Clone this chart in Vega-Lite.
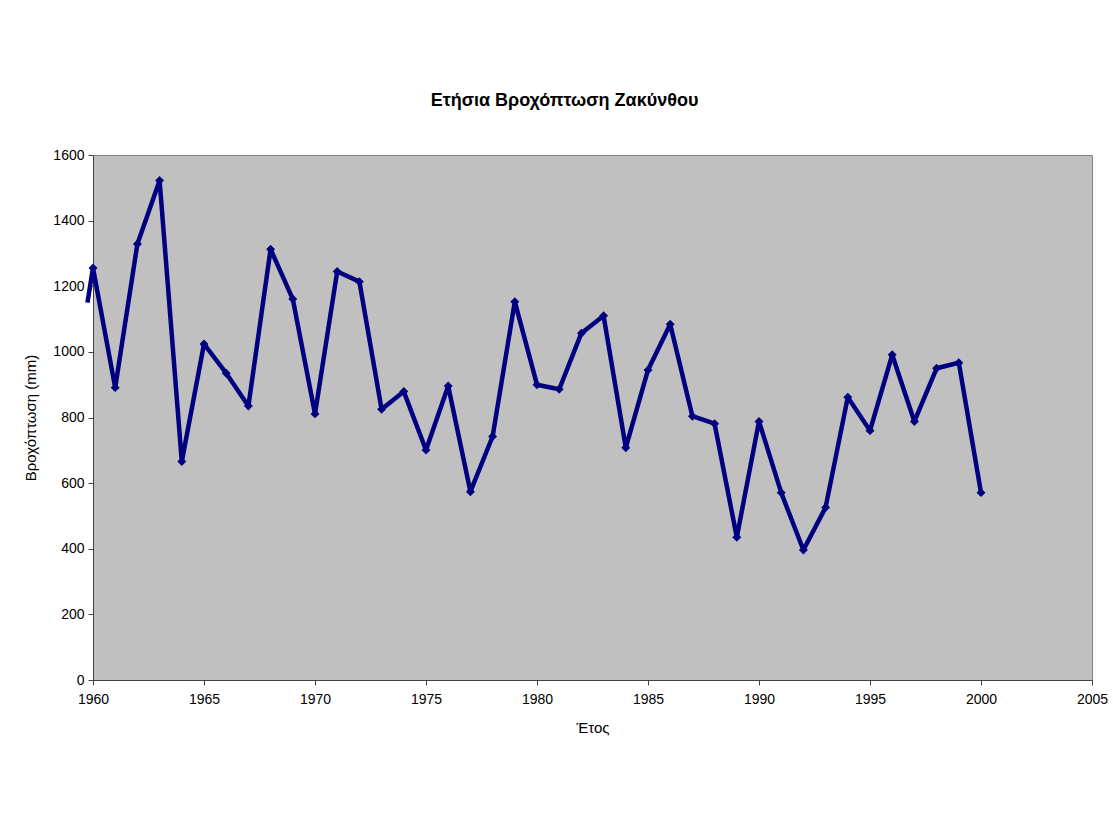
{
  "$schema": "https://vega.github.io/schema/vega-lite/v6.json",
  "autosize": {"type": "none"},
  "width": 999,
  "height": 525,
  "padding": {"left": 93, "top": 155, "right": 21, "bottom": 143},
  "background": "white",
  "title": {
    "text": "Ετήσια Βροχόπτωση Ζακύνθου",
    "font": "Liberation Sans",
    "fontSize": 18,
    "fontWeight": "bold",
    "color": "black",
    "anchor": "middle",
    "offset": 38,
    "dx": -28
  },
  "config": {
    "view": {"fill": "#C0C0C0", "stroke": "#808080", "strokeWidth": 1},
    "axis": {
      "labelFont": "Liberation Sans",
      "titleFont": "Liberation Sans",
      "labelFontSize": 14,
      "titleFontSize": 15,
      "titleFontWeight": "normal",
      "labelColor": "black",
      "titleColor": "black",
      "domainColor": "#404040",
      "tickColor": "#404040",
      "grid": false,
      "tickSize": 5,
      "labelFlush": false
    }
  },
  "data": {
    "values": [
      {"year": 1959.75, "rain": 1150},
      {"year": 1960, "rain": 1256},
      {"year": 1961, "rain": 891},
      {"year": 1962, "rain": 1329},
      {"year": 1963, "rain": 1522},
      {"year": 1964, "rain": 666},
      {"year": 1965, "rain": 1024},
      {"year": 1966, "rain": 935},
      {"year": 1967, "rain": 835},
      {"year": 1968, "rain": 1313},
      {"year": 1969, "rain": 1161},
      {"year": 1970, "rain": 811},
      {"year": 1971, "rain": 1245},
      {"year": 1972, "rain": 1214},
      {"year": 1973, "rain": 825},
      {"year": 1974, "rain": 879},
      {"year": 1975, "rain": 701},
      {"year": 1976, "rain": 896},
      {"year": 1977, "rain": 574},
      {"year": 1978, "rain": 742},
      {"year": 1979, "rain": 1153},
      {"year": 1980, "rain": 900},
      {"year": 1981, "rain": 886},
      {"year": 1982, "rain": 1057},
      {"year": 1983, "rain": 1110},
      {"year": 1984, "rain": 708},
      {"year": 1985, "rain": 945},
      {"year": 1986, "rain": 1084},
      {"year": 1987, "rain": 804},
      {"year": 1988, "rain": 781},
      {"year": 1989, "rain": 435},
      {"year": 1990, "rain": 788},
      {"year": 1991, "rain": 571},
      {"year": 1992, "rain": 396},
      {"year": 1993, "rain": 526},
      {"year": 1994, "rain": 862},
      {"year": 1995, "rain": 760},
      {"year": 1996, "rain": 991},
      {"year": 1997, "rain": 788},
      {"year": 1998, "rain": 950},
      {"year": 1999, "rain": 967},
      {"year": 2000, "rain": 571}
    ]
  },
  "encoding": {
    "x": {
      "field": "year",
      "type": "quantitative",
      "scale": {"domain": [1960, 2005], "nice": false, "zero": false},
      "axis": {"values": [1960, 1965, 1970, 1975, 1980, 1985, 1990, 1995, 2000, 2005], "format": "d", "title": "Έτος", "labelPadding": 7, "titlePadding": 14}
    },
    "y": {
      "field": "rain",
      "type": "quantitative",
      "scale": {"domain": [0, 1600], "nice": false},
      "axis": {"values": [0, 200, 400, 600, 800, 1000, 1200, 1400, 1600], "format": "d", "title": "Βροχόπτωση (mm)", "labelPadding": 4, "titlePadding": 14}
    }
  },
  "layer": [
    {
      "mark": {"type": "line", "color": "#000080", "strokeWidth": 4.5, "clip": false, "strokeJoin": "round"}
    },
    {
      "transform": [{"filter": "datum.year >= 1960"}],
      "mark": {"type": "point", "shape": "diamond", "filled": true, "color": "#000080", "size": 80, "opacity": 1}
    }
  ]
}
